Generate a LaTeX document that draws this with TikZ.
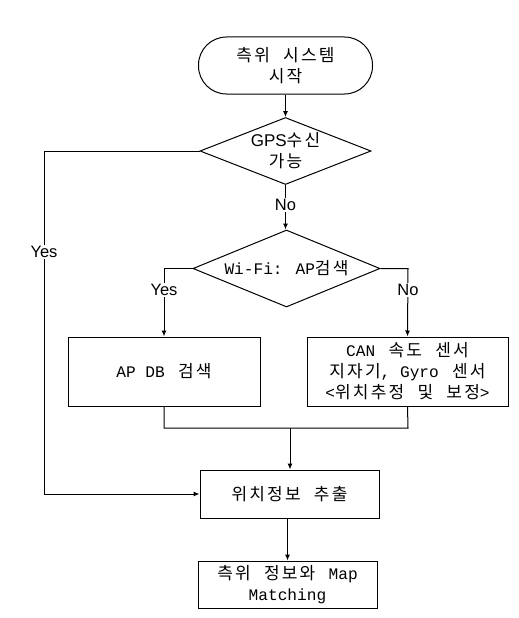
\documentclass[tikz,border=0pt]{standalone}
\usepackage{fontspec}
\setmainfont{Noto Sans CJK KR}[LetterSpace=13,WordSpace=2.2]
\newfontfamily\lat{Liberation Mono}[Scale=0.95]
\newfontfamily\lab{Liberation Sans}
\usetikzlibrary{shapes.geometric,arrows.meta}
\begin{document}
\begin{tikzpicture}[x=1pt,y=-1pt,
  every node/.style={font=\fontsize{17}{21}\selectfont, align=center, inner sep=0pt},
  boxnode/.style={draw, line width=1pt, rectangle},
  decnode/.style={draw, line width=1pt, diamond},
  ln/.style={line width=1pt},
  arr/.style={line width=1pt, -{Latex[length=6pt,width=5pt]}},
  lbl/.style={fill=white, font=\lab\fontsize{16.5}{18}\selectfont, inner sep=1pt}]
\useasboundingbox (0,0) rectangle (519,618);
\node[boxnode, rounded corners=28pt, minimum width=174pt, minimum height=57pt] (start) at (285.5,65.5) {측위 시스템\\시작};
\node[decnode, minimum width=171pt, minimum height=67pt] (d1) at (285.5,151) {};
\node (d1t) at (d1.center) {{\lab GPS}수신\\가능};
\node[decnode, minimum width=187pt, minimum height=77pt] (d2) at (286.5,268.5) {};
\node (d2t) at (d2.center) {{\lat Wi-Fi: AP}검색};
\node[boxnode, minimum width=192pt, minimum height=69pt] (apdb) at (164,371.5) {{\lat AP DB} 검색};
\node[boxnode, minimum width=201pt, minimum height=69pt] (can) at (407.5,371.5) {{\lat CAN} 속도 센서\\지자기{\lat , Gyro} 센서\\{\lat <}위치추정 및 보정{\lat >}};
\node[boxnode, minimum width=179pt, minimum height=48pt] (pos) at (289.5,494) {위치정보 추출};
\node[boxnode, minimum width=179pt, minimum height=47pt] (map) at (287.5,584.5) {측위 정보와 {\lat Map}\\{\lat Matching}};
\coordinate (c1) at (44,151);
\coordinate (c2) at (44,494);
\coordinate (c3) at (164,268.5);
\coordinate (c4) at (408,268.5);
\coordinate (c5) at (164,428);
\coordinate (c6) at (408,428);
\coordinate (j) at (290,428);
\draw[arr] (start.south) -- (d1.north);
\draw[arr] (d1.west) -- (c1) -- (c2) -- (pos.west);
\node[lbl] (yes1) at (44,252) {Yes};
\draw[arr] (d1.south) -- (d1.south |- d2.north);
\node[lbl] (no1) at (285.5,205) {No};
\draw[arr] (d2.west) -- (c3) -- (apdb.north);
\node[lbl] (yes2) at (164,290) {Yes};
\draw[arr] (d2.east) -- (c4) -- (can.north);
\node[lbl] (no2) at (408,290) {No};
\draw[ln] (apdb.south) -- (c5) -- (c6) -- (can.south);
\draw[arr] (j) -- (pos.north -| j);
\draw[arr] (pos.south -| map.north) -- (map.north);
\end{tikzpicture}
\end{document}
